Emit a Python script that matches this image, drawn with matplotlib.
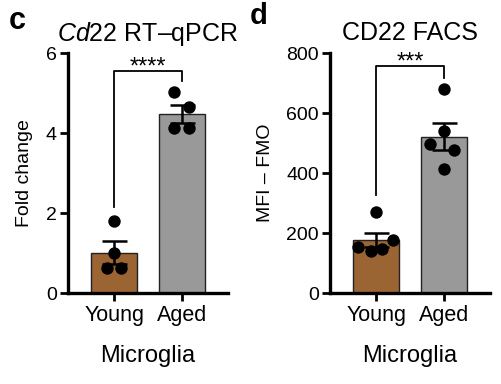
import matplotlib.pyplot as plt
import numpy as np

plt.rcParams["font.family"] = ["Liberation Sans", "DejaVu Sans"]
plt.rcParams["mathtext.fontset"] = "custom"
plt.rcParams["mathtext.it"] = "Liberation Sans:italic"
plt.rcParams["mathtext.rm"] = "Liberation Sans"

# Data
groups = ["Young", "Aged"]
colors = ["#9a6533", "#999999"]

qpcr_young = [1.8, 1.0, 0.62, 0.62]
qpcr_aged = [5.03, 4.66, 4.12, 4.12]

facs_young = [270, 177, 153, 140, 147]
facs_aged = [679, 540, 496, 477, 412]

# jitter offsets of the dots
qpcr_dx = [[0.0, 0.0, -0.1, 0.1], [-0.12, 0.1, -0.12, 0.1]]
facs_dx = [[0.0, 0.25, -0.27, -0.07, 0.09], [0.0, 0.0, -0.2, 0.15, 0.0]]


def panel(ax, data, dx, ylim, yticks, ylabel, bracket, stars, star_off):
    x = np.arange(len(groups))
    means = [np.mean(d) for d in data]
    sems = [np.std(d, ddof=1) / np.sqrt(len(d)) for d in data]
    ax.bar(x, means, width=0.68, color=colors, edgecolor="#222222",
           linewidth=1.0, zorder=1)
    for i, d in enumerate(data):
        ax.scatter(x[i] + np.array(dx[i]), d, s=80, color="black", zorder=3,
                   linewidths=0)
    ax.errorbar(x, means, yerr=sems, fmt="none", ecolor="black",
                elinewidth=1.8, capsize=9, capthick=1.8, zorder=4)
    top, left_end, right_end = bracket
    ax.plot([0, 0, 1, 1], [left_end, top, top, right_end], color="black",
            lw=1.3, zorder=2, clip_on=False)
    ax.text(0.5, top - star_off, stars, ha="center", va="baseline",
            fontsize=17)

    ax.set_xlim(-0.68, 1.68)
    ax.set_ylim(*ylim)
    ax.set_yticks(yticks)
    ax.set_xticks(x)
    ax.set_xticklabels(groups, fontsize=15.5)
    ax.tick_params(axis="y", labelsize=14, width=2, length=6, pad=2)
    ax.tick_params(axis="x", width=2, length=6, pad=3)
    for s in ["top", "right"]:
        ax.spines[s].set_visible(False)
    for s in ["left", "bottom"]:
        ax.spines[s].set_linewidth(2.4)
    ax.set_ylabel(ylabel, fontsize=14, labelpad=9)
    ax.set_xlabel("Microglia", fontsize=17, labelpad=13)


fig = plt.figure(figsize=(5.01, 3.84), dpi=100)
ax1 = fig.add_axes([68 / 501, 1 - 293 / 384, 160 / 501, 240 / 384])
ax2 = fig.add_axes([330 / 501, 1 - 293 / 384, 160 / 501, 240 / 384])

panel(ax1, [qpcr_young, qpcr_aged], qpcr_dx, (0, 6), [0, 2, 4, 6],
      "Fold change", (5.55, 2.15, 5.3), "****", 0.07)
panel(ax2, [facs_young, facs_aged], facs_dx, (0, 800), [0, 200, 400, 600, 800],
      "MFI – FMO", (757, 327, 717), "***", 9)

ax1.set_title(r"$\mathit{Cd22}$ RT–qPCR", fontsize=18, pad=9)
ax2.set_title("CD22 FACS", fontsize=18, pad=9)
fig.text(9 / 501, 1 - 21 / 384, "c", fontsize=22, fontweight="heavy",
         va="center", ha="left")
fig.text(250 / 501, 1 - 16 / 384, "d", fontsize=21, fontweight="heavy",
         va="center", ha="left")

plt.savefig("out.png", dpi=100)
